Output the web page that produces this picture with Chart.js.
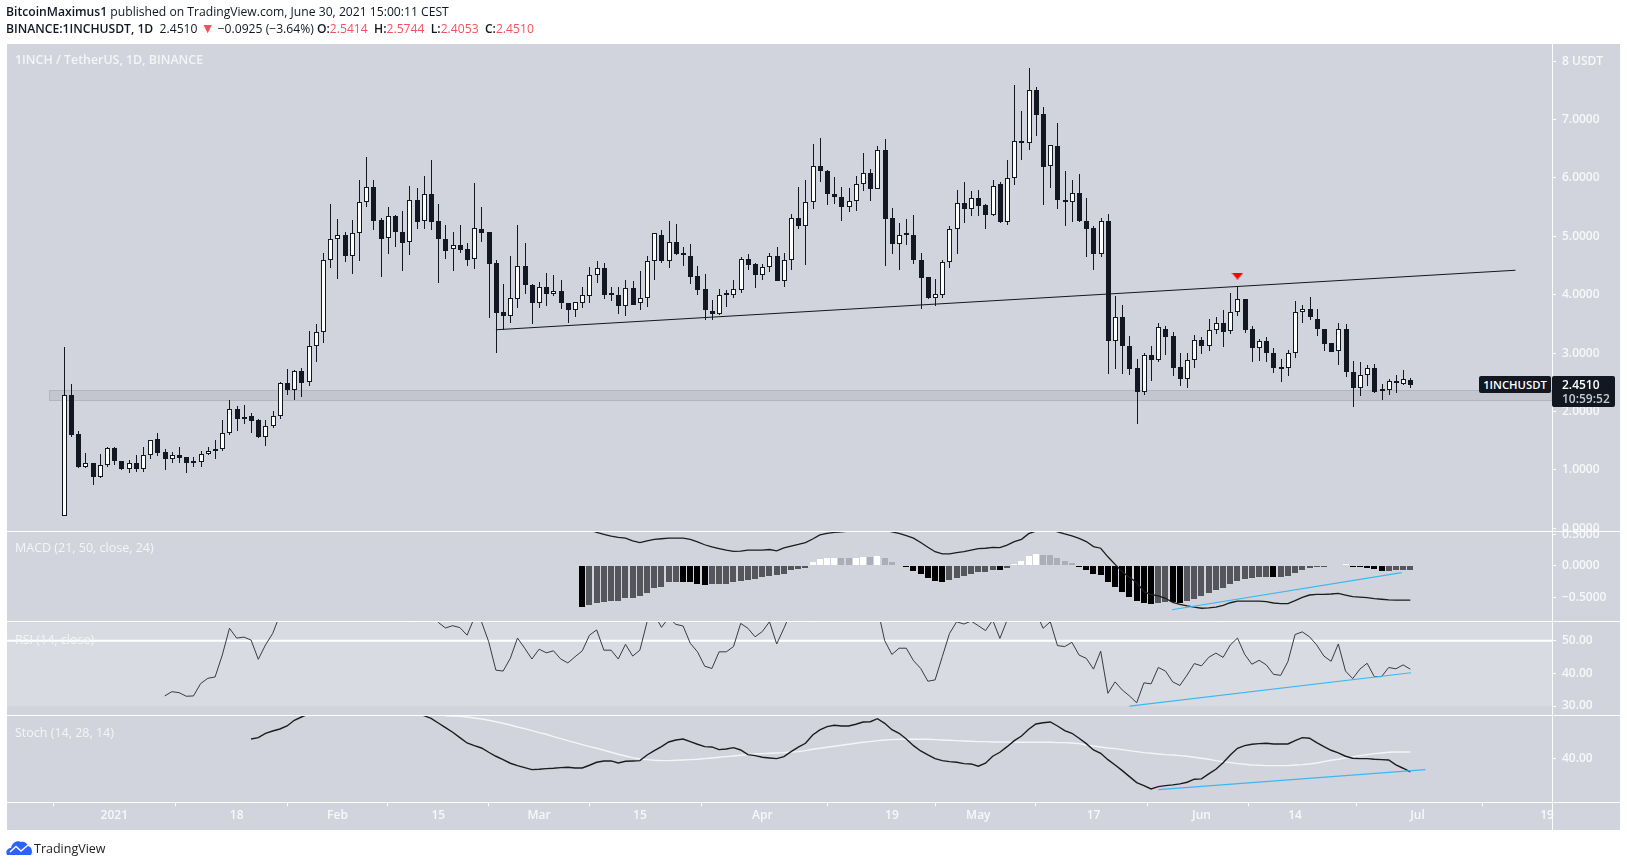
<!DOCTYPE html>
<html>
<head>
<meta charset="utf-8">
<title>1INCHUSDT</title>
<script src="https://cdn.jsdelivr.net/npm/chart.js@4/dist/chart.umd.min.js"></script>
<style>
  html, body { margin: 0; padding: 0; background: #fff; width: 1627px; height: 867px; overflow: hidden; }
  body { position: relative; font-family: "Open Sans", sans-serif; color: #131722; }
  canvas { position: absolute; left: 0; top: 0; }
  .txt { position: absolute; white-space: nowrap; line-height: 16px; }
  .head { font-size: 12.15px; left: 6px; }
  .head b { font-weight: 600; }
  .head i { font-style: normal; color: #f0535a; }
  .head i.tri { font-size: 14px; line-height: 12px; }
  .pane { left: 15px; font-size: 12.5px; color: #f4f5f7; }
  .tag { position: absolute; background: #131722; color: #fff; border-radius: 2px; font-size: 12px; font-weight: 600; }
</style>
</head>
<body>
<canvas id="chart" width="1627" height="867"></canvas>

<div class="txt head" style="top:4px"><b>BitcoinMaximus1</b> published on TradingView.com, June 30, 2021 15:00:11 CEST</div>
<div class="txt head" style="top:21px"><b>BINANCE:1INCHUSDT, 1D</b>&nbsp; 2.4510 <i class="tri">▼</i> −0.0925 (−3.64%) <b>O:</b><i>2.5414</i> &nbsp;<b>H:</b><i>2.5744</i> &nbsp;<b>L:</b><i>2.4053</i> &nbsp;<b>C:</b><i>2.4510</i></div>

<div class="txt pane" style="top:52px;font-weight:600;font-size:12.4px">1INCH / TetherUS, 1D, BINANCE</div>
<div class="txt pane" style="top:540px">MACD (21, 50, close, 24)</div>
<div class="txt pane" style="top:632px">RSI (14, close)</div>
<div class="txt pane" style="top:725px">Stoch (14, 28, 14)</div>

<div class="tag" style="left:1479px;top:376px;width:72px;height:17px;line-height:17px;text-align:center;font-size:11.3px">1INCHUSDT</div>
<div class="tag" style="left:1552px;top:376px;width:63px;height:31px">
  <div style="position:absolute;left:10px;top:1px;line-height:16px">2.4510</div>
  <div style="position:absolute;left:10px;top:15px;line-height:16px;color:#c8cad0">10:59:52</div>
</div>

<svg style="position:absolute;left:6px;top:840px" width="27" height="16" viewBox="0 0 27 16">
  <path d="M1 15 C-1 11 2 8 5 8 C6 3 11 0 15 2 C18 1 21 3 22 6 C26 7 27 12 25 15 Z" fill="#2962ff"/>
  <path d="M4 12 L10 6.5 L15 11 L22 5" fill="none" stroke="#fff" stroke-width="1.5"/>
</svg>
<div class="txt" style="left:34px;top:841px;font-size:12.5px;color:#222">TradingView</div>

<script>
// days are counted from Jan 1 2021, first candle is Dec 25 2020
const firstDay = -7;

const candleOpen = [
  0.21, 2.29, 1.61, 1.05, 1.11, 0.88, 1.09, 1.37, 1.16, 1.02,
  1.12, 1.02, 1.25, 1.53, 1.31, 1.19, 1.25, 1.22, 1.14, 1.13,
  1.28, 1.35, 1.35, 1.64, 2.04, 1.91, 1.92, 1.85, 1.57, 1.76,
  1.93, 2.48, 2.36, 2.70, 2.50, 3.12, 3.37, 4.59, 4.95, 5.03,
  4.67, 5.05, 5.58, 5.84, 5.28, 4.97, 5.34, 5.07, 4.91, 5.63,
  5.26, 5.72, 5.26, 4.95, 4.78, 4.85, 4.79, 4.62, 5.12, 5.07,
  4.54, 3.70, 3.64, 3.93, 4.50, 4.17, 3.85, 4.13, 4.02, 4.07,
  3.85, 3.74, 3.86, 3.98, 4.33, 4.45, 4.03, 4.00, 3.81, 4.11,
  3.85, 3.95, 4.57, 5.03, 4.58, 4.90, 4.71, 4.67, 4.32, 4.10,
  3.72, 3.67, 4.01, 4.00, 4.08, 4.62, 4.52, 4.34, 4.47, 4.67,
  4.24, 4.59, 5.32, 5.18, 5.58, 6.20, 6.11, 5.73, 5.68, 5.51,
  5.61, 5.89, 6.09, 5.81, 6.47, 5.31, 4.86, 5.04, 5.03, 4.59,
  4.30, 3.95, 4.00, 4.56, 5.12, 5.57, 5.47, 5.65, 5.53, 5.37,
  5.89, 5.25, 5.99, 6.63, 6.59, 7.50, 7.09, 6.20, 6.54, 5.62,
  5.58, 5.75, 5.27, 5.14, 4.70, 5.27, 3.21, 3.61, 3.13, 2.74,
  2.34, 2.96, 2.89, 3.42, 3.29, 2.76, 2.56, 2.89, 3.22, 3.13,
  3.39, 3.51, 3.38, 3.70, 3.92, 3.41, 3.09, 3.20, 3.01, 2.74,
  2.74, 3.01, 3.70, 3.75, 3.59, 3.42, 3.17, 3.03, 3.41, 2.67,
  2.41, 2.62, 2.74, 2.37, 2.36, 2.52, 2.47, 2.5414
];
const candleHigh = [
  3.10, 2.47, 1.67, 1.29, 1.11, 1.27, 1.40, 1.40, 1.16, 1.17,
  1.25, 1.39, 1.52, 1.63, 1.35, 1.31, 1.39, 1.22, 1.22, 1.33,
  1.40, 1.51, 1.85, 2.20, 2.09, 2.11, 1.97, 1.88, 1.85, 2.01,
  2.50, 2.73, 2.71, 2.74, 3.38, 3.50, 4.71, 5.56, 5.30, 5.08,
  5.28, 5.96, 6.35, 5.96, 5.32, 5.50, 5.36, 5.43, 5.87, 5.82,
  6.04, 6.30, 5.55, 5.19, 5.08, 5.19, 4.88, 5.91, 5.50, 5.08,
  4.59, 4.18, 4.67, 5.19, 4.88, 4.19, 4.21, 4.37, 4.34, 4.25,
  3.85, 3.87, 4.13, 4.47, 4.58, 4.54, 4.14, 4.14, 4.25, 4.23,
  4.40, 4.66, 5.05, 5.10, 5.26, 5.21, 4.82, 4.86, 4.49, 4.35,
  3.91, 4.10, 4.08, 4.25, 4.64, 4.70, 4.55, 4.52, 4.71, 4.82,
  4.71, 5.39, 5.84, 5.96, 6.58, 6.68, 6.13, 6.01, 5.84, 5.82,
  6.03, 6.42, 6.16, 6.54, 6.67, 5.48, 5.22, 5.30, 5.37, 4.71,
  4.30, 4.27, 4.60, 5.17, 5.80, 5.93, 5.78, 5.79, 5.55, 5.96,
  5.93, 6.30, 7.59, 7.15, 7.89, 7.55, 7.21, 6.56, 6.94, 6.11,
  5.96, 6.06, 5.65, 5.17, 5.32, 5.38, 3.98, 3.82, 3.29, 2.90,
  3.01, 3.12, 3.51, 3.46, 3.37, 3.00, 3.00, 3.31, 3.27, 3.58,
  3.62, 3.73, 4.03, 4.14, 3.92, 3.47, 3.25, 3.27, 3.08, 2.90,
  3.05, 3.89, 3.82, 3.96, 3.75, 3.42, 3.17, 3.51, 3.49, 2.86,
  2.84, 2.80, 2.81, 2.47, 2.56, 2.62, 2.71, 2.5744
];
const candleLow = [
  0.21, 1.57, 1.04, 1.04, 0.75, 0.87, 1.05, 1.09, 1.00, 0.94,
  0.97, 0.97, 1.19, 1.24, 1.00, 1.11, 1.11, 0.95, 1.05, 1.05,
  1.26, 1.18, 1.33, 1.59, 1.67, 1.79, 1.64, 1.55, 1.41, 1.71,
  1.88, 2.29, 2.19, 2.24, 2.43, 2.84, 3.18, 4.46, 4.27, 4.56,
  4.35, 4.58, 5.50, 5.11, 4.31, 4.70, 4.82, 4.41, 4.68, 5.12,
  5.12, 5.11, 4.20, 4.61, 4.41, 4.71, 4.49, 4.44, 4.90, 3.60,
  3.00, 3.40, 3.52, 3.78, 4.02, 3.50, 3.78, 3.81, 3.98, 3.76,
  3.52, 3.61, 3.78, 3.85, 4.20, 3.93, 3.90, 3.67, 3.64, 3.83,
  3.73, 3.79, 4.25, 4.55, 4.46, 4.68, 4.49, 4.19, 4.00, 3.57,
  3.57, 3.65, 3.79, 3.95, 4.03, 4.43, 4.12, 4.25, 4.39, 4.24,
  4.13, 4.42, 5.12, 4.51, 5.47, 5.93, 5.54, 5.55, 5.27, 5.42,
  5.44, 5.78, 5.60, 5.81, 4.50, 4.70, 4.43, 4.85, 4.53, 3.76,
  3.92, 3.80, 3.95, 4.46, 4.70, 5.22, 5.34, 5.34, 5.13, 5.35,
  5.22, 5.20, 5.88, 6.31, 6.48, 6.72, 5.54, 5.82, 5.46, 5.17,
  5.25, 5.25, 4.65, 4.43, 4.65, 2.64, 2.73, 2.64, 2.62, 1.78,
  2.29, 2.53, 2.84, 2.97, 2.61, 2.44, 2.40, 2.74, 2.98, 3.04,
  3.33, 3.10, 3.33, 3.63, 3.35, 2.85, 2.86, 2.85, 2.66, 2.50,
  2.61, 2.92, 3.51, 3.56, 3.29, 3.04, 3.02, 2.80, 2.59, 2.07,
  2.27, 2.44, 2.32, 2.20, 2.28, 2.32, 2.46, 2.4053
];
const candleClose = [
  2.29, 1.60, 1.05, 1.11, 0.88, 1.09, 1.37, 1.16, 1.02, 1.11,
  1.02, 1.25, 1.51, 1.29, 1.19, 1.25, 1.20, 1.12, 1.12, 1.28,
  1.33, 1.33, 1.64, 2.04, 1.88, 1.88, 1.84, 1.57, 1.76, 1.93,
  2.48, 2.36, 2.69, 2.49, 3.13, 3.36, 4.59, 4.95, 5.03, 4.67,
  5.05, 5.58, 5.84, 5.27, 4.96, 5.34, 5.08, 4.89, 5.63, 5.25,
  5.72, 5.25, 4.96, 4.75, 4.85, 4.77, 4.60, 5.14, 5.06, 4.53,
  3.69, 3.64, 3.94, 4.50, 4.17, 3.85, 4.13, 4.02, 4.07, 3.85,
  3.73, 3.87, 3.99, 4.33, 4.45, 4.00, 4.00, 3.81, 4.11, 3.83,
  3.95, 4.57, 5.05, 4.58, 4.90, 4.70, 4.68, 4.31, 4.08, 3.73,
  3.67, 4.00, 4.00, 4.09, 4.62, 4.51, 4.34, 4.47, 4.67, 4.24,
  4.59, 5.32, 5.18, 5.58, 6.20, 6.12, 5.73, 5.67, 5.51, 5.61,
  5.89, 6.09, 5.81, 6.47, 5.30, 4.86, 5.03, 5.02, 4.60, 4.29,
  3.95, 4.01, 4.56, 5.12, 5.57, 5.47, 5.65, 5.52, 5.37, 5.87,
  5.25, 5.99, 6.63, 6.59, 7.50, 7.08, 6.19, 6.56, 5.63, 5.58,
  5.75, 5.27, 5.13, 4.70, 5.27, 3.21, 3.61, 3.13, 2.72, 2.34,
  2.96, 2.88, 3.44, 3.28, 2.75, 2.56, 2.89, 3.22, 3.12, 3.39,
  3.51, 3.37, 3.70, 3.92, 3.40, 3.09, 3.20, 3.01, 2.75, 2.73,
  3.01, 3.70, 3.75, 3.61, 3.42, 3.16, 3.02, 3.41, 2.67, 2.40,
  2.62, 2.74, 2.34, 2.35, 2.52, 2.48, 2.55, 2.4510
];

const macdHistStart = 65;
const macdHist = [
  -0.647, -0.615, -0.584, -0.568, -0.557, -0.547, -0.51, -0.50, -0.48, -0.43,
  -0.34, -0.33, -0.26, -0.245, -0.25, -0.255, -0.28, -0.295, -0.29, -0.285,
  -0.28, -0.26, -0.23, -0.22, -0.21, -0.17, -0.16, -0.15, -0.12, -0.06,
  -0.05, -0.025, 0.07, 0.11, 0.125, 0.13, 0.125, 0.12, 0.125, 0.14,
  0.135, 0.155, 0.125, 0.065, 0.015, -0.02, -0.08, -0.125, -0.185, -0.235,
  -0.25, -0.22, -0.19, -0.16, -0.125, -0.095, -0.09, -0.065, -0.07, -0.03,
  0.025, 0.08, 0.155, 0.19, 0.175, 0.17, 0.125, 0.08, 0.045, -0.01,
  -0.065, -0.125, -0.14, -0.25, -0.33, -0.41, -0.49, -0.55, -0.585, -0.60,
  -0.585, -0.57, -0.575, -0.58, -0.55, -0.52, -0.475, -0.425, -0.38, -0.345,
  -0.285, -0.235, -0.205, -0.19, -0.18, -0.175, -0.18, -0.17, -0.16, -0.11,
  -0.065, -0.03, -0.015, -0.005, 0.015, 0.005, 0.03, -0.01, -0.02, -0.03,
  -0.05, -0.08, -0.075, -0.07, -0.065, -0.06
];
const macdLineStart = 66;
const macdLine = [
  0.57, 0.53, 0.50, 0.47, 0.45, 0.44, 0.395, 0.37, 0.395, 0.42,
  0.43, 0.44, 0.44, 0.44, 0.42, 0.38, 0.335, 0.30, 0.275, 0.25,
  0.23, 0.235, 0.25, 0.25, 0.25, 0.26, 0.24, 0.285, 0.315, 0.34,
  0.37, 0.425, 0.49, 0.515, 0.53, 0.54, 0.55, 0.57, 0.59, 0.60,
  0.59, 0.57, 0.54, 0.515, 0.48, 0.44, 0.37, 0.295, 0.225, 0.19,
  0.19, 0.21, 0.225, 0.25, 0.275, 0.28, 0.295, 0.29, 0.33, 0.385,
  0.42, 0.51, 0.55, 0.59, 0.58, 0.54, 0.505, 0.475, 0.435, 0.385,
  0.305, 0.28, 0.145, 0.025, -0.09, -0.18, -0.26, -0.405, -0.45, -0.47,
  -0.51, -0.575, -0.605, -0.63, -0.65, -0.667, -0.66, -0.65, -0.62, -0.58,
  -0.553, -0.553, -0.553, -0.553, -0.563, -0.584, -0.595, -0.595, -0.547, -0.495,
  -0.458, -0.447, -0.447, -0.442, -0.432, -0.458, -0.484, -0.49, -0.50, -0.515,
  -0.525, -0.535, -0.54, -0.54, -0.54
];

const rsiStart = 7;
const rsiLine = [
  33.1, 34.4, 34.1, 33.0, 33.1, 36.9, 38.5, 38.9, 45.6, 53.8,
  50.8, 51.1, 50.2, 44.3, 48.7, 52.2, 57.9, null, null, null,
  null, null, null, null, null, null, null, null, null, null,
  null, null, null, null, null, null, null, 60, 55.6, 53.9,
  54.6, 54, 51.7, 57, 55.8, 49.7, 41, 40.7, 44.6, 50.8,
  47.7, 44.4, 47.4, 46.3, 46.9, 44.4, 43.2, 45.1, 46.9, 51.7,
  53.3, 47.1, 47.1, 44.4, 48.9, 45.3, 47.1, 55.8, 58, 54.1,
  57, 55, 54.5, 49.2, 46.6, 42.2, 41.5, 46.6, 46.6, 48.2,
  55.3, 53.8, 51.2, 52.8, 55.8, 49, 53.8, 58.9, 60, null,
  null, null, null, null, null, null, null, null, null, 60,
  50, 45.8, 47.7, 47.7, 43.9, 41.5, 37.6, 38, 45.1, 52.2,
  55.8, 55.1, 56, 54.6, 53.1, 56.3, 50.7, 56.3, 58.9, 60,
  60, 58.9, 53.8, 55.8, 48.5, 48.2, 49.5, 45.6, 44.6, 41.3,
  46.8, 33.9, 37.4, 34.9, 33.1, 31, 37.1, 36.8, 41.8, 40.7,
  37.4, 36.3, 39.5, 43, 42.3, 44.9, 46.2, 44.9, 48.7, 50.8,
  45.8, 42.8, 44, 42.6, 39.7, 39.4, 43.6, 51.9, 52.7, 51.2,
  48.7, 45.3, 43.7, 49, 40.7, 38.4, 41.3, 43.1, 39, 39,
  41.8, 41.4, 42.6, 41.3
];

const stochKStart = 19;
const stochK = [
  49.85, 50.5, 52.7, 53.85, 54.85, 56.35, 59.2, 60.85, 62.5, null,
  null, null, null, null, null, null, null, null, null, null,
  null, null, null, 62.7, 61.5, 60.2, 57.85, 55.5, 53.2, 50.5,
  47.85, 46.5, 45.35, 43.2, 41.2, 39.5, 37.7, 36.5, 35.5, 34.5,
  34.7, 35, 35.2, 35.5, 35.7, 35.35, 35.35, 36.7, 38.2, 38.85,
  38.85, 37.85, 38.7, 38.85, 39, 41.85, 44, 46, 48.35, 49.35,
  49.85, 48.5, 47.2, 46, 45.85, 44.5, 44.85, 45.5, 44.35, 42,
  41.5, 40.7, 40.35, 40, 41, 43.5, 45.8, 47.7, 51.85, 54.35,
  56, 56.7, 56.35, 56.35, 57.2, 58.35, 58.5, 60, 57.7, 54.5,
  52.7, 49.85, 46.5, 43.85, 41.85, 40, 39, 38.5, 38.2, 37.5,
  37.35, 36.2, 37.7, 41.2, 43.2, 46, 49, 51.35, 54.7, 57.35,
  58, 58.35, 56.35, 54, 52.7, 50.2, 47.5, 44.35, 42.7, 39.5,
  36.85, 34, 31, 28, 26.5, 24.85, 26, 26.5, 26.85, 27.35,
  28.2, 29.7, 29.85, 32.35, 34.7, 38, 41.85, 45.2, 46.5, 47.2,
  47.5, 47.7, 47.35, 47.35, 47.35, 49, 50.5, 50.2, 48, 46,
  44.2, 42.85, 41.2, 40.2, 40, 40, 39.7, 39.5, 39.35, 36.85,
  35.2, 33.35
];
const stochDStart = 46;
const stochD = [
  61.5, 61.35, 61.2, 60.85, 60.35, 59.85, 59.2, 58.5, 57.7, 56.85,
  55.85, 55, 54, 53, 52.2, 51, 50, 49, 48, 47,
  46, 45.2, 44.2, 43.2, 42.2, 41.35, 40.5, 39.85, 39.5, 39.2,
  39, 39, 39.2, 39.35, 39.5, 39.7, 40, 40.35, 40.7, 41,
  41.35, 41.7, 42, 42.35, 42.5, 42.7, 42.85, 43, 43.3, 43.5,
  44, 44.7, 45.2, 45.7, 46.2, 46.7, 47.2, 47.7, 48.2, 48.5,
  49, 49.35, 49.5, 49.7, 49.7, 49.7, 49.7, 49.7, 49.5, 49.35,
  49.2, 49, 48.85, 48.7, 48.5, 48.5, 48.35, 48.35, 48.35, 48.2,
  48.2, 48.2, 48.2, 48.2, 48.2, 48, 48, 47.85, 47.5, 46.85,
  46.35, 45.85, 45.35, 45, 44.5, 44, 43.5, 43, 42.7, 42.35,
  42, 41.85, 41.5, 41.2, 40.7, 40.2, 39.7, 39, 38.5, 38,
  37.5, 37.2, 36.85, 36.7, 36.5, 36.5, 36.5, 36.5, 36.85, 37,
  37.35, 37.85, 38.5, 39.2, 39.7, 40.35, 40.85, 41.5, 42, 42.5,
  42.85, 43.2, 43.35, 43.35, 43.35
];

// drawn lines, [day, value]
const neckline = [[53, 3.40], [194.6, 4.42]];
const macdTrend = [[146.9, -0.69], [178.8, -0.105]];
const rsiTrend = [[141, 30], [180.1, 40.2]];
const stochTrend = [[145, 24.5], [182.1, 34.5]];
const signalDay = 156;
const signalPrice = 4.32;
const zoneStartDay = -9;
const zoneHigh = 2.37;
const zoneLow = 2.19;
const rsiMid = 50;
const rsiBandLow = 30;

const dayTicks = [0, 17, 31, 45, 59, 73, 90, 108, 120, 136, 151, 164, 181, 199];
const dayLabels = ['2021', '18', 'Feb', '15', 'Mar', '15', 'Apr', '19', 'May', '17', 'Jun', '14', 'Jul', '19'];
const priceTicks = [8, 7, 6, 5, 4, 3, 2, 1, 0];
const macdTicks = [0.5, 0, -0.5];
const rsiTicks = [50, 40, 30];
const stochTicks = [40];

const DAY_MIN = -14.9, DAY_MAX = 199.68;

const BLACK = '#131722';
const days = candleOpen.map((_, i) => firstDay + i);

function series(start, values) {
    return values.map((v, i) => ({ x: start + i, y: v }));
}
function pts(pairs) {
    return pairs.map(p => ({ x: p[0], y: p[1] }));
}

// TradingView 4 colour histogram
const histColors = macdHist.map((v, i) => {
    const prev = i > 0 ? macdHist[i - 1] : 0;
    if (v >= 0) return v >= prev ? '#ffffff' : '#abaeb7';
    return v < prev ? '#000000' : '#55565c';
});

// flattened red arrow above the rejection candle
const arrow = document.createElement('canvas');
arrow.width = 12;
arrow.height = 7;
const actx = arrow.getContext('2d');
actx.fillStyle = '#ff0000';
actx.beginPath();
actx.moveTo(0, 0);
actx.lineTo(12, 0);
actx.lineTo(6, 7);
actx.closePath();
actx.fill();

function lineSet(yAxisID, data, color, width, order) {
    return { type: 'line', yAxisID, xAxisID: 'x', data, borderColor: color, borderWidth: width,
        pointRadius: 0, tension: 0, fill: false, spanGaps: false, order };
}

function yAxis(stackWeight, min, max, tickValues, format) {
    return {
        type: 'linear', position: 'right', stack: 'panes', stackWeight, min, max,
        afterFit: s => { s.width = 68; },
        afterBuildTicks: s => { s.ticks = tickValues.map(v => ({ value: v })); },
        border: { color: '#ffffff', width: 1 },
        grid: { drawOnChartArea: false, color: '#ffffff', tickLength: 4 },
        ticks: { autoSkip: false, color: '#f7f8fa', padding: 6, font: { family: 'Open Sans', size: 12, weight: '600' }, callback: format }
    };
}

const fmt4 = v => (v < 0 ? '−' : '') + Math.abs(v).toFixed(4);

// gray background, support zone, RSI band and the white pane separators
const panesPlugin = {
    id: 'panes',
    beforeDraw(chart) {
        const c = chart.ctx;
        c.save();
        c.fillStyle = '#d1d4dc';
        c.fillRect(7, 44, 1613, 786);
        c.restore();
    },
    beforeDatasetsDraw(chart) {
        const c = chart.ctx, s = chart.scales;
        // snap bars to whole pixels so the candle borders stay crisp
        chart.getSortedVisibleDatasetMetas().forEach(meta => {
            if (meta.type !== 'bar') return;
            const half = meta.yAxisID === 'y' ? 0.5 : 0;
            meta.data.forEach(bar => {
                bar.x = Math.round(bar.x) + half;
                bar.y = Math.round(bar.y);
                bar.base = Math.round(bar.base);
            });
        });
        c.save();
        const right = s.x.right;
        c.fillStyle = '#d8dbe2';
        c.fillRect(s.x.left, s.rsi.top, right - s.x.left, s.rsi.getPixelForValue(rsiBandLow) - s.rsi.top);
        const zx = Math.round(s.x.getPixelForValue(zoneStartDay)) + 0.5;
        const zt = Math.round(s.y.getPixelForValue(zoneHigh)) + 0.5;
        const zb = Math.round(s.y.getPixelForValue(zoneLow)) + 0.5;
        c.fillStyle = '#c3c6cf';
        c.strokeStyle = '#b2b5bd';
        c.lineWidth = 1;
        c.fillRect(zx, zt, right - zx, zb - zt);
        c.strokeRect(zx, zt, right - zx, zb - zt);
        c.restore();
    },
    afterDatasetsDraw(chart) {
        const c = chart.ctx, s = chart.scales;
        c.save();
        c.strokeStyle = '#ffffff';
        c.lineWidth = 1;
        c.beginPath();
        [s.y.bottom, s.macd.bottom, s.rsi.bottom, s.stoch.bottom].forEach(y => {
            c.moveTo(7, Math.round(y) + 0.5);
            c.lineTo(1620, Math.round(y) + 0.5);
        });
        c.moveTo(Math.round(s.x.right) + 0.5, 44);
        c.lineTo(Math.round(s.x.right) + 0.5, 830);
        c.stroke();
        c.restore();
    }
};

new Chart(document.getElementById('chart').getContext('2d'), {
    type: 'bar',
    data: {
        datasets: [
            lineSet('y', pts(neckline), '#131722', 1.1, 1),
            { type: 'line', yAxisID: 'y', xAxisID: 'x', data: [{ x: signalDay, y: signalPrice }], showLine: false,
              pointStyle: arrow, pointRadius: 6, order: 0 },
            { yAxisID: 'y', xAxisID: 'x', grouped: false, order: 2, barThickness: 5, barPercentage: 1, categoryPercentage: 1,
              minBarLength: 2, borderSkipped: false, borderWidth: 1, borderColor: BLACK, inflateAmount: 0,
              backgroundColor: candleOpen.map((o, i) => candleClose[i] >= o ? '#ffffff' : BLACK),
              data: days.map((d, i) => ({ x: d, y: [candleOpen[i], candleClose[i]] })) },
            { yAxisID: 'y', xAxisID: 'x', grouped: false, order: 3, barThickness: 1, barPercentage: 1, categoryPercentage: 1,
              inflateAmount: 0, backgroundColor: BLACK,
              data: days.map((d, i) => ({ x: d, y: [candleLow[i], candleHigh[i]] })) },
            { yAxisID: 'macd', xAxisID: 'x', grouped: false, order: 6, barThickness: 6, barPercentage: 1, categoryPercentage: 1,
              minBarLength: 1, inflateAmount: 0, backgroundColor: histColors, data: series(macdHistStart, macdHist) },
            lineSet('macd', series(macdLineStart, macdLine), '#1c1c20', 1.3, 5),
            lineSet('macd', pts(macdTrend), '#39b9f0', 1.2, 4),
            lineSet('rsi', [{ x: DAY_MIN, y: rsiMid }, { x: DAY_MAX, y: rsiMid }], '#ffffff', 2, 6),
            lineSet('rsi', series(rsiStart, rsiLine), '#3a3b40', 1, 5),
            lineSet('rsi', pts(rsiTrend), '#39b9f0', 1.2, 4),
            lineSet('stoch', series(stochDStart, stochD), '#f4f5f7', 1.4, 6),
            lineSet('stoch', series(stochKStart, stochK), '#1c1c20', 1.4, 5),
            lineSet('stoch', pts(stochTrend), '#39b9f0', 1.2, 4)
        ]
    },
    options: {
        responsive: false,
        animation: false,
        events: [],
        layout: { padding: { left: 7, top: 44, right: 7, bottom: 37 } },
        plugins: { legend: { display: false }, tooltip: { enabled: false }, title: { display: false } },
        scales: {
            x: {
                type: 'linear', position: 'bottom', min: DAY_MIN, max: DAY_MAX, offset: false,
                afterFit: s => { s.height = 27.7; },
                afterBuildTicks: s => { s.ticks = dayTicks.map(v => ({ value: v })); },
                border: { color: '#ffffff', width: 1 },
                grid: { drawOnChartArea: false, color: '#ffffff', tickLength: 4 },
                ticks: { autoSkip: false, maxRotation: 0, color: '#f7f8fa', padding: 2, font: { family: 'Open Sans', size: 12, weight: '600' },
                    callback: v => dayLabels[dayTicks.indexOf(v)] }
            },
            y: yAxis(487, -0.046, 8.293, priceTicks, v => v === 8 ? '8 USDT' : v.toFixed(4)),
            macd: yAxis(90, -0.868, 0.552, macdTicks, fmt4),
            rsi: yAxis(94.3, 27.17, 56.03, rsiTicks, v => v.toFixed(2)),
            stoch: yAxis(87, 18.15, 61.7, stochTicks, v => v.toFixed(2))
        }
    },
    plugins: [panesPlugin]
});
</script>
</body>
</html>
